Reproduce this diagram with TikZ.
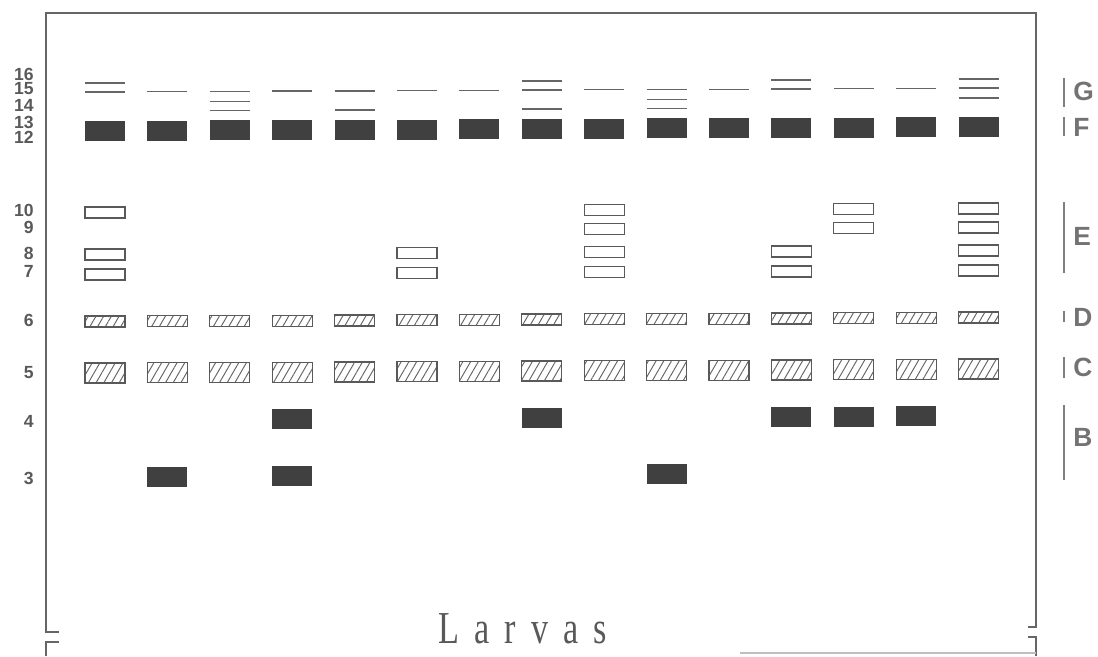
\documentclass[tikz,border=0pt]{standalone}
\usepackage{graphicx}
\usepackage{fontspec}
\setmainfont{Liberation Serif}
\setsansfont{Liberation Sans}
\newfontfamily\larvasfont[LetterSpace=44]{Liberation Serif}
\usetikzlibrary{patterns.meta}

\tikzset{
  frameline/.style={draw=black!60, line width=1.1pt},
  thinband/.style={draw=black!60, line width=0.8pt},
  darkband/.style={fill=black!75},
  openband/.style={draw=black!65, line width=0.7pt, fill=white},
  hatchband/.style={draw=black!65, line width=0.7pt,
    pattern={Lines[angle=60,distance=3.8pt,line width=0.55pt]}, pattern color=black!60},
  numlabel/.style={anchor=east, inner sep=0pt, text=black!65,
    font=\sffamily\bfseries\fontsize{10}{11}\selectfont},
  grplabel/.style={anchor=west, inner sep=0pt, text=black!55,
    font=\sffamily\bfseries\fontsize{15}{16}\selectfont},
  grpbar/.style={draw=black!50, line width=0.8pt}
}

\begin{document}
\begin{tikzpicture}[x=0.02cm,y=-0.02cm]
\useasboundingbox (0,0) rectangle (1098,656);
% frame with open bottom
\draw[frameline] (59,632) -- (46,632) -- (46,13) -- (1036,13) -- (1036,627) -- (1028,627);
\draw[frameline] (59,642) -- (46,642) -- (46,656);
\draw[frameline] (1028,637) -- (1036,637) -- (1036,656);
\draw[black!25, line width=0.6pt] (740,653) -- (1036,653);

% thin bands 16-13 (lane/top)
\foreach \l/\y in {1/83,1/92,2/92,3/92,3/102,3/111,4/92,5/92,5/111,6/92,7/92,
                   8/83,8/92,8/111,9/92,10/92,10/102,10/111,11/92,12/83,12/92,
                   13/92,14/92,15/83,15/92,15/102}
  \draw[thinband] ({85+62.4*(\l-1)},{\y-0.28*(\l-1)}) -- ++(40,0);

% F, D, C in every lane
\foreach \l in {1,...,15}{
  \fill[darkband] ({85+62.4*(\l-1)},{121-0.28*(\l-1)}) rectangle ++(40,20);
  \draw[hatchband] ({85+62.4*(\l-1)},{316-0.28*(\l-1)}) rectangle ++(40,11);
  \draw[hatchband] ({85+62.4*(\l-1)},{363-0.28*(\l-1)}) rectangle ++(40,20);
}

% E bands 10-7
\foreach \l/\y in {1/207,1/249,1/269,6/249,6/269,9/207,9/226,9/249,9/269,
                   12/249,12/269,13/207,13/226,15/207,15/226,15/249,15/269}
  \draw[openband] ({85+62.4*(\l-1)},{\y-0.28*(\l-1)}) rectangle ++(40,11);

% B bands 4 and 3
\foreach \l/\y in {4/410,8/410,12/410,13/410,14/410,2/467,4/467,10/467}
  \fill[darkband] ({85+62.4*(\l-1)},{\y-0.28*(\l-1)}) rectangle ++(40,20);

% numbers on the left
\foreach \n/\y in {16/74,15/89,14/105,13/122,12/137,10/210,9/227,8/253,7/271,
                   6/320,5/373,4/421,3/478}
  \node[numlabel] (num-\n) at (34,\y) {\n};

% groups on the right
\foreach \g/\y/\a/\b in {G/91/78/107,F/127/117/136,E/236/202/273,
                         D/317/311/322,C/367/357/378,B/437/405/480}{
  \draw[grpbar] (1064,\a) -- (1064,\b);
  \node[grplabel] (grp-\g) at (1073,\y) {\g};
}

\node[anchor=base, inner sep=0pt, text=black!65] (title) at (523,643)
  {\scalebox{0.75}[1]{\larvasfont\fontsize{26}{28}\selectfont Larvas}};
\end{tikzpicture}
\end{document}
